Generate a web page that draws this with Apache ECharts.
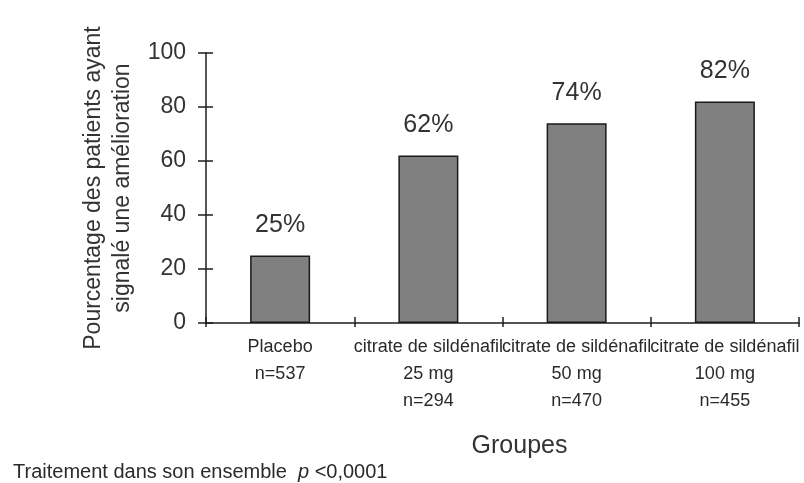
<!DOCTYPE html>
<html>
<head>
<meta charset="utf-8">
<script src="https://cdn.jsdelivr.net/npm/echarts@6/dist/echarts.min.js"></script>
<style>
html,body{margin:0;padding:0;background:#fff;}
#chart{width:804px;height:483px;}
</style>
</head>
<body>
<div id="chart"></div>
<script>
var categories = [
  "Placebo\nn=537",
  "citrate de sildénafil\n25 mg\nn=294",
  "citrate de sildénafil\n50 mg\nn=470",
  "citrate de sildénafil\n100 mg\nn=455"
];
var values = [25, 62, 74, 82];
var yTicks = {min: 0, max: 100, interval: 20};
var yAxisName = "Pourcentage des patients ayant\nsignalé une amélioration";
var xAxisName = "Groupes";
var footnote = "Traitement dans son ensemble  {i|p} <0,0001";

var FONT = "'Liberation Sans', Arial, sans-serif";
var chart = echarts.init(document.getElementById('chart'), null, {renderer: 'canvas'});
var axisColor = '#1e1e1e';
var textColor = '#333333';

chart.setOption({
  animation: false,
  backgroundColor: '#ffffff',
  textStyle: {fontFamily: FONT},
  title: {
    text: footnote,
    left: 13,
    top: 462,
    padding: 0,
    textStyle: {
      fontFamily: FONT, fontSize: 20, fontWeight: 'normal', color: '#2a2a2a',
      rich: {i: {fontFamily: FONT, fontSize: 20, fontStyle: 'italic', color: '#2a2a2a'}}
    }
  },
  grid: {left: 206, right: 5, top: 53, bottom: 160, containLabel: false},
  xAxis: [{
    type: 'category',
    data: categories,
    position: 'bottom',
    name: xAxisName,
    nameLocation: 'middle',
    nameGap: 111,
    nameTextStyle: {fontFamily: FONT, fontSize: 25, color: textColor, padding: [0, 0, 0, 34]},
    axisLine: {show: true, lineStyle: {color: axisColor, width: 1.5}},
    axisTick: {show: true, alignWithLabel: false, interval: 0, length: 4, inside: false, lineStyle: {color: axisColor, width: 1.5}},
    axisLabel: {interval: 0, margin: 11, fontFamily: FONT, fontSize: 18, lineHeight: 27, color: '#2a2a2a'},
    splitLine: {show: false}
  }, {
    type: 'category',
    data: categories,
    position: 'bottom',
    axisLine: {show: false},
    axisTick: {show: true, alignWithLabel: false, interval: 0, length: 6, inside: true, lineStyle: {color: axisColor, width: 1.5}},
    axisLabel: {show: false},
    splitLine: {show: false}
  }],
  yAxis: [{
    type: 'value',
    position: 'left',
    min: yTicks.min, max: yTicks.max, interval: yTicks.interval,
    name: yAxisName,
    nameLocation: 'middle',
    nameRotate: 90,
    nameGap: 62,
    nameTextStyle: {fontFamily: FONT, fontSize: 23, lineHeight: 29, color: textColor},
    axisLine: {show: true, lineStyle: {color: axisColor, width: 1.5}},
    axisTick: {show: true, length: 8, lineStyle: {color: axisColor, width: 1.5}},
    axisLabel: {margin: 20, fontFamily: FONT, fontSize: 23, color: textColor},
    splitLine: {show: false}
  }, {
    type: 'value',
    position: 'left',
    min: yTicks.min, max: yTicks.max, interval: yTicks.interval,
    axisLine: {show: false},
    axisTick: {show: true, inside: true, length: 7, lineStyle: {color: axisColor, width: 1.5}},
    axisLabel: {show: false},
    splitLine: {show: false}
  }],
  series: [{
    type: 'bar',
    data: values,
    xAxisIndex: 0,
    yAxisIndex: 0,
    barWidth: 60,
    itemStyle: {color: '#808080', borderColor: '#1a1a1a', borderWidth: 1.5},
    label: {
      show: true, position: 'top', distance: 18,
      formatter: '{c}%',
      fontFamily: FONT, fontSize: 25, color: textColor
    }
  }]
});
</script>
</body>
</html>
